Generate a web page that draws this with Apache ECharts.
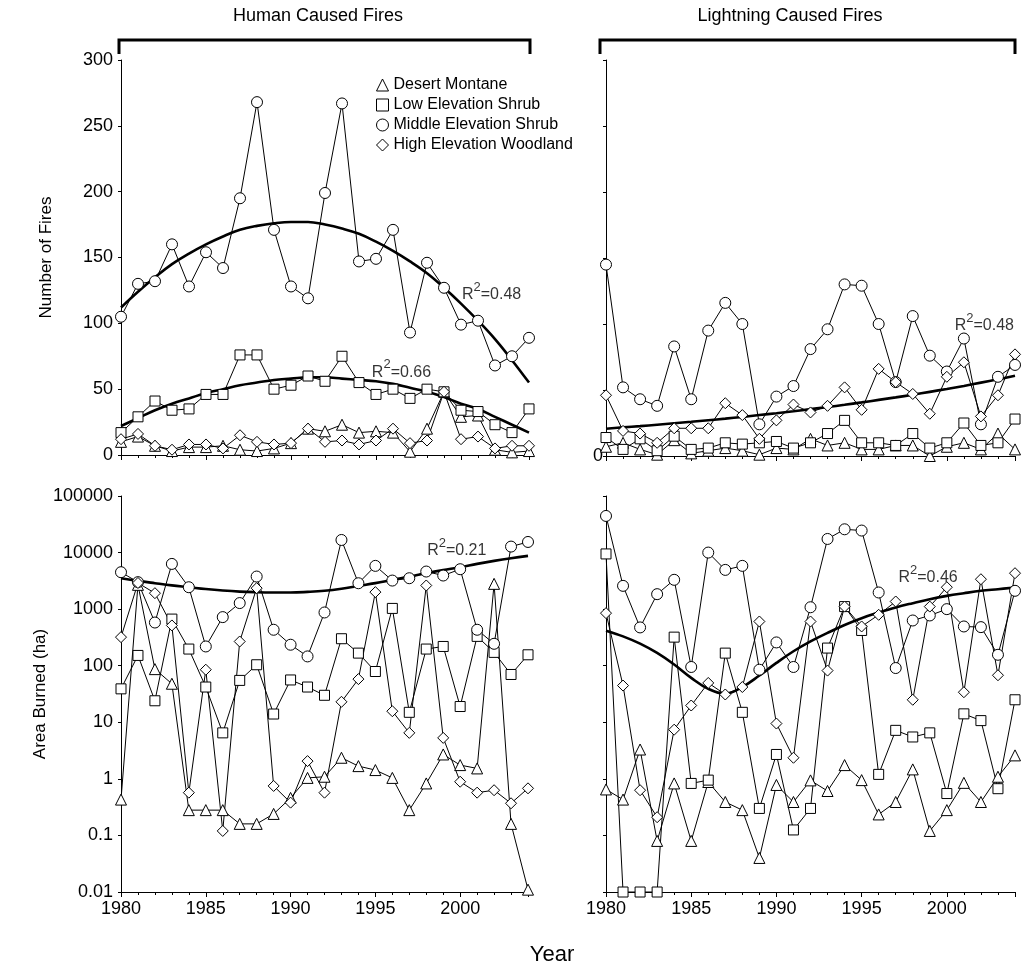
<!DOCTYPE html>
<html><head><meta charset="utf-8">
<script src="https://cdn.jsdelivr.net/npm/echarts@6/dist/echarts.min.js"></script>
<style>html,body{margin:0;padding:0;background:#fff}#c{width:1026px;height:968px}</style>
</head><body><div id="c"></div>
<script>
// ---------- DATA ----------
const years = [1980,1981,1982,1983,1984,1985,1986,1987,1988,1989,1990,1991,1992,1993,1994,1995,1996,1997,1998,1999,2000,2001,2002,2003,2004];
const seriesNames = ['Desert Montane','Low Elevation Shrub','Middle Elevation Shrub','High Elevation Woodland'];

// Number of fires, human caused
const hcDesert = [10,14,7,3,6,6,7,4,3,5,9,20,18,23,17,18,17,2.5,20,48,29,30,4,2,3];
const hcLow    = [17,29,41,34,35,46,46,76,76,50,53,60,56,75,55,46,50,43,50,48,34,33,23,17,35];
const hcMiddle = [105,130,132,160,128,154,142,195,268,171,128,119,199,267,147,149,171,93,146,127,99,102,68,75,89];
const hcHigh   = [12,16,7,4,8,8,5,15,10,8,9,20,10,11,8,11,20,9,11,48,12,14,5,7,7];
const hcTrendMiddle = [112,124,135,145,153,160,166,171,174,176,177,177,175,172,168,162,155,147,138,127,115,102,88,72,55];
const hcTrendLow    = [22,28,34,39,43,47,50,53,55,57,58,59,59,58,57,56,54,51,48,44,39,35,29,23,17];

// Number of fires, lightning caused
const lcDesert = [7,10,5,1,12,2,4,6,4,1,6,5,13,8,10,5,5,8,8,0,7,10,5,17,5];
const lcLow    = [14,5,13,4,15,5,6,10,9,10,11,6,10,17,27,10,10,8,17,6,10,25,8,10,28];
const lcMiddle = [145,52,43,38,83,43,95,116,100,24,45,53,81,96,130,129,100,56,106,76,64,89,24,60,69];
const lcHigh   = [46,19,17,10,21,21,21,40,31,13,27,39,33,38,52,35,66,56,47,32,60,71,30,46,77];
const lcTrend  = [20.7,21.7,22.6,23.7,24.8,25.9,27.1,28.3,29.6,31.0,32.4,33.9,35.5,37.1,38.8,40.6,42.5,44.4,46.4,48.6,50.8,53.1,55.6,58.1,60.8];

// Area burned (ha), human caused
const haDesert = [0.43,2690,87,48,0.28,0.28,0.28,0.16,0.16,0.24,0.46,1.04,1.09,2.36,1.68,1.43,1.04,0.28,0.83,2.7,1.75,1.53,2800,0.16,0.011];
const haLow    = [39,152,24,667,197,42,6.5,55,104,14,56,42,30,300,167,79,1030,15,197,219,19,330,172,70,156];
const haMiddle = [4500,3000,580,6300,2440,219,723,1280,3770,432,235,146,873,16700,2870,5820,3200,3520,4620,3930,5080,432,244,12760,15400];
const haHigh   = [320,2900,1915,515,0.57,85,0.12,268,2350,0.75,0.38,2.06,0.57,23,58,2000,15.7,6.5,2620,5.3,0.89,0.57,0.63,0.37,0.68];
const haTrend  = [3524,3162,2877,2630,2443,2265,2133,2042,1995,1972,1968,2018,2109,2291,2570,2884,3296,3758,4315,4898,5508,6310,7129,7943,8730];

// Area burned (ha), lightning caused
const laDesert = [0.65,0.43,3.3,0.08,0.83,0.08,0.88,0.39,0.28,0.04,0.78,0.39,0.94,0.61,1.75,0.95,0.235,0.39,1.47,0.12,0.28,0.85,0.39,1.09,2.6];
const laLow    = [9460,0.01,0.01,0.01,320,0.83,0.95,167,15,0.3,2.7,0.125,0.3,205,1110,420,1.2,7.2,5.5,6.5,0.55,14.1,10.7,0.67,25];
const laMiddle = [44400,2580,475,1840,3300,95,10000,4940,5820,85,258,95,1080,17400,25800,24500,1970,91,630,773,1000,494,481,156,2110];
const laHigh   = [850,44.6,0.63,0.21,7.4,19.8,49.6,31,42,605,9.5,2.36,605,82,1110,494,794,1365,25,1110,2440,34,3380,67.8,4320];
const laTrend  = [416,330,245,168,105,61,39,32,42,67,112,180,269,380,525,692,871,1072,1276,1500,1718,1914,2109,2254,2410];

// ---------- CHART ----------
const FONT = '"Liberation Sans", Arial, Helvetica, sans-serif';
const BLACK = '#000';
const chart = echarts.init(document.getElementById('c'), null, {renderer: 'canvas'});
const pairs = vals => years.map((y, i) => [y, vals[i]]);
const symStyle = {color: '#fff', borderColor: BLACK, borderWidth: 1};
const symbols = ['triangle', 'rect', 'circle', 'diamond'];
const sizes = [11, 10, 11, 11];

function dataSeries(k, vals, gi) {
  return {type: 'line', name: seriesNames[k], xAxisIndex: gi, yAxisIndex: gi, data: pairs(vals),
    symbol: symbols[k], symbolSize: sizes[k], showSymbol: true, showAllSymbol: true,
    lineStyle: {color: BLACK, width: 1}, itemStyle: symStyle, emphasis: {disabled: true},
    z: 3, animation: false, silent: true};
}
function trendSeries(vals, gi) {
  return {type: 'line', xAxisIndex: gi, yAxisIndex: gi, data: pairs(vals), symbol: 'none',
    smooth: 0.4, lineStyle: {color: BLACK, width: 2.6}, z: 2, silent: true, animation: false};
}
function r2Label(gi, x, y, txt) {
  return {type: 'scatter', xAxisIndex: gi, yAxisIndex: gi, data: [[x, y]], symbolSize: 1,
    itemStyle: {color: 'rgba(0,0,0,0)'}, silent: true, z: 6, animation: false,
    label: {show: true, position: 'inside', formatter: '{a|R}{s|2}{a|=' + txt + '}',
      rich: {a: {fontSize: 16, fontFamily: FONT, color: BLACK, verticalAlign: 'bottom', lineHeight: 22},
             s: {fontSize: 13, fontFamily: FONT, color: BLACK, verticalAlign: 'top', lineHeight: 22}}}};
}
function xAxis(gi, showLabels) {
  return {type: 'value', gridIndex: gi, min: 1980, max: 2004, interval: 5,
    axisLine: {show: true, onZero: false, lineStyle: {color: BLACK, width: 1}},
    axisTick: {show: true, length: 5, lineStyle: {color: BLACK, width: 1}},
    minorTick: {show: true, splitNumber: 5, length: 3, lineStyle: {color: BLACK, width: 1}},
    splitLine: {show: false}, minorSplitLine: {show: false},
    axisLabel: {show: showLabels, fontSize: 18, fontFamily: FONT, color: BLACK, margin: 8,
      formatter: v => (v % 5 === 0 ? String(v) : '')}};
}
const yCommon = {axisLine: {show: true, onZero: false, lineStyle: {color: BLACK, width: 1}},
  axisTick: {show: true, length: 3, lineStyle: {color: BLACK, width: 1}}, splitLine: {show: false}};
function yCount(gi, labelsAll, name) {
  return Object.assign({type: 'value', gridIndex: gi, min: 0, max: 300, interval: 50,
    axisLabel: {fontSize: 18, fontFamily: FONT, color: BLACK, margin: labelsAll ? 8 : 3,
      formatter: v => (labelsAll || v === 0 ? String(v) : '')},
    name: name || '', nameLocation: 'middle', nameGap: 66,
    nameTextStyle: {fontSize: 17, fontFamily: FONT, color: BLACK}}, yCommon);
}
function yArea(gi, showLabels, name) {
  return Object.assign({type: 'log', logBase: 10, gridIndex: gi, min: 0.01, max: 100000, splitNumber: 7,
    axisLabel: {show: showLabels, fontSize: 18, fontFamily: FONT, color: BLACK, margin: 8,
      formatter: v => String(+Number(v).toPrecision(6))},
    name: name || '', nameLocation: 'middle', nameGap: 66,
    nameTextStyle: {fontSize: 17, fontFamily: FONT, color: BLACK}}, yCommon);
}

const series = [
  trendSeries(hcTrendMiddle, 0), trendSeries(hcTrendLow, 0),
  dataSeries(0, hcDesert, 0), dataSeries(1, hcLow, 0), dataSeries(2, hcMiddle, 0), dataSeries(3, hcHigh, 0),
  trendSeries(lcTrend, 1),
  dataSeries(0, lcDesert, 1), dataSeries(1, lcLow, 1), dataSeries(2, lcMiddle, 1), dataSeries(3, lcHigh, 1),
  trendSeries(haTrend, 2),
  dataSeries(0, haDesert, 2), dataSeries(1, haLow, 2), dataSeries(2, haMiddle, 2), dataSeries(3, haHigh, 2),
  trendSeries(laTrend, 3),
  dataSeries(0, laDesert, 3), dataSeries(1, laLow, 3), dataSeries(2, laMiddle, 3), dataSeries(3, laHigh, 3),
  r2Label(0, 2001.8, 124, '0.48'),
  r2Label(0, 1996.5, 65, '0.66'),
  r2Label(1, 2002.2, 101, '0.48'),
  r2Label(2, 1999.8, 12100, '0.21'),
  r2Label(3, 1998.9, 4050, '0.46')
];

const option = {
  backgroundColor: '#fff',
  animation: false,
  grid: [
    {left: 121, top: 60, width: 408, height: 395},
    {left: 606, top: 60, width: 409, height: 396},
    {left: 121, top: 496, width: 407, height: 396},
    {left: 606, top: 496, width: 409, height: 396}
  ],
  xAxis: [xAxis(0, false), xAxis(1, false), xAxis(2, true), xAxis(3, true)],
  yAxis: [yCount(0, true, 'Number of Fires'), yCount(1, false), yArea(2, true, 'Area Burned (ha)'), yArea(3, false)],
  legend: {orient: 'vertical', left: 371, top: 72, itemWidth: 12, itemHeight: 12, itemGap: 4,
    selectedMode: false, textStyle: {fontSize: 16, fontFamily: FONT, color: BLACK},
    itemStyle: {color: '#fff', borderColor: BLACK, borderWidth: 1},
    data: seriesNames.map((n, k) => ({name: n, icon: symbols[k]}))},
  graphic: [
    {type: 'text', x: 318, y: 16, style: {text: 'Human Caused Fires', font: '18px ' + FONT, fill: BLACK, textAlign: 'center', textVerticalAlign: 'middle'}},
    {type: 'text', x: 790, y: 16, style: {text: 'Lightning Caused Fires', font: '18px ' + FONT, fill: BLACK, textAlign: 'center', textVerticalAlign: 'middle'}},
    {type: 'polyline', shape: {points: [[119, 54], [119, 40], [530, 40], [530, 54]]}, style: {stroke: BLACK, lineWidth: 3, fill: null}},
    {type: 'polyline', shape: {points: [[600, 54], [600, 40], [1015, 40], [1015, 54]]}, style: {stroke: BLACK, lineWidth: 3, fill: null}},
    {type: 'text', x: 552, y: 955, style: {text: 'Year', font: '22px ' + FONT, fill: BLACK, textAlign: 'center', textVerticalAlign: 'middle'}}
  ],
  series: series
};
chart.setOption(option);
</script>
</body></html>
